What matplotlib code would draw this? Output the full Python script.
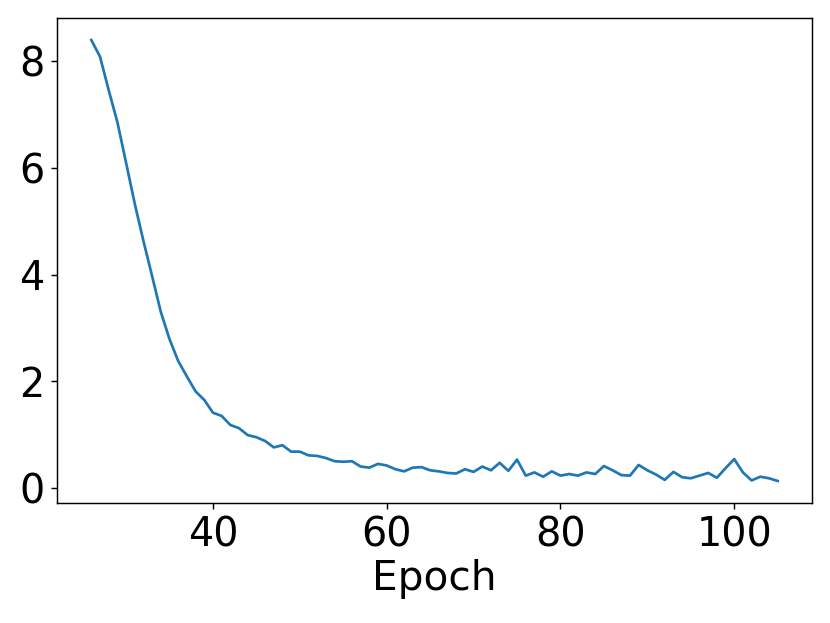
import matplotlib
matplotlib.use("Agg")
import matplotlib.pyplot as plt

epochs = list(range(26, 106))
loss = [
    8.40, 8.09, 7.46, 6.86, 6.10, 5.33, 4.63, 3.97, 3.30, 2.79,
    2.38, 2.09, 1.81, 1.65, 1.41, 1.35, 1.18, 1.12, 0.99, 0.95,
    0.88, 0.76, 0.80, 0.68, 0.68, 0.61, 0.60, 0.56, 0.50, 0.49,
    0.50, 0.40, 0.38, 0.45, 0.42, 0.35, 0.31, 0.38, 0.39, 0.33,
    0.31, 0.28, 0.27, 0.35, 0.30, 0.40, 0.33, 0.47, 0.32, 0.53,
    0.23, 0.29, 0.21, 0.31, 0.23, 0.26, 0.23, 0.29, 0.26, 0.41,
    0.33, 0.24, 0.23, 0.43, 0.33, 0.25, 0.15, 0.30, 0.20, 0.18,
    0.23, 0.28, 0.19, 0.37, 0.54, 0.29, 0.14, 0.21, 0.18, 0.13,
]
xlabel = "Epoch"

dpi = 130
fig = plt.figure(figsize=(830 / dpi, 623 / dpi), dpi=dpi)
ax = fig.add_axes([57 / 830, 1 - 503 / 623, (812 - 57) / 830, (503 - 18) / 623])
ax.plot(epochs, loss, color="#1f77b4", linewidth=1.5)
ax.set_xlabel(xlabel, fontsize=22.5, labelpad=2)
ax.tick_params(labelsize=22)
ax.set_xticks([40, 60, 80, 100])
ax.set_yticks([0, 2, 4, 6, 8])
fig.savefig("out.png", dpi=dpi)
